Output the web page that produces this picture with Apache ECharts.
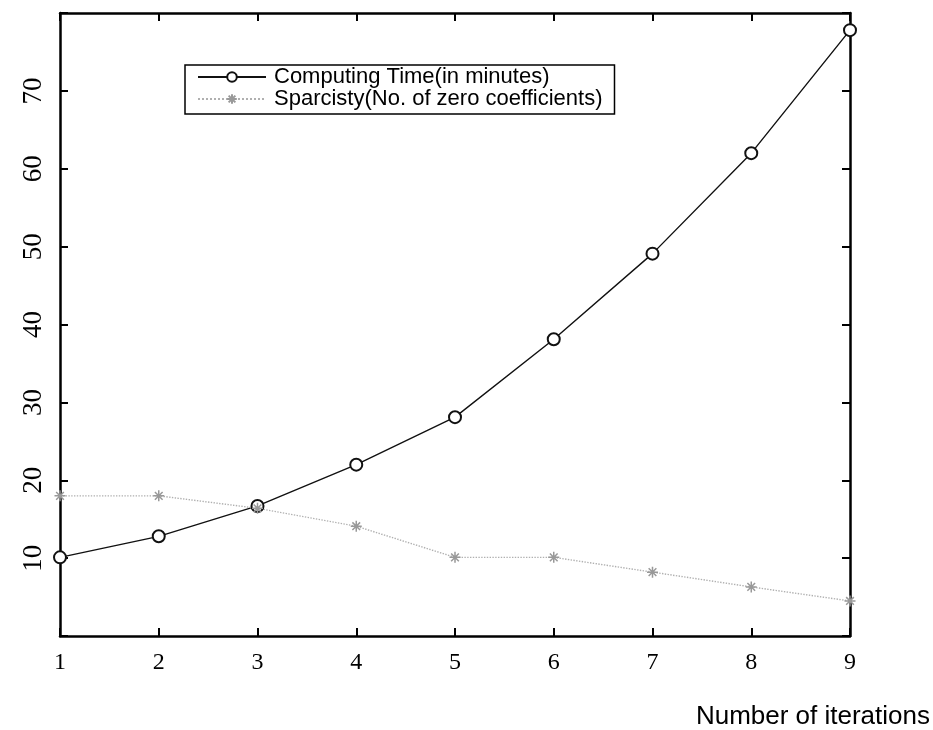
<!DOCTYPE html>
<html><head><meta charset="utf-8">
<script src="https://cdn.jsdelivr.net/npm/echarts@6/dist/echarts.min.js"></script>
<style>html,body{margin:0;padding:0;background:#fff}#c{width:933px;height:730px}</style>
</head><body><div id="c"></div>
<script>
const iterations = [1,2,3,4,5,6,7,8,9];
const computingTime = [10.1,12.8,16.7,22.0,28.1,38.1,49.1,62.0,77.8];
const sparsity = [18.0,18.0,16.4,14.1,10.1,10.1,8.2,6.3,4.5];
const yTicks = [10,20,30,40,50,60,70];
const seriesNames = ['Computing Time(in minutes)','Sparcisty(No. of zero coefficients)'];
const xName = 'Number of iterations';

const chart = echarts.init(document.getElementById('c'));
const serif = '"Liberation Serif","DejaVu Serif",serif';
const sans = '"Liberation Sans",Arial,sans-serif';
const asterisk = 'path://M0,5L10,5M5,0L5,10M1.5,1.5L8.5,8.5M8.5,1.5L1.5,8.5';
const axisBase = {
  axisLine:{show:true,onZero:false,lineStyle:{color:'#000',width:2.5}},
  axisTick:{show:true,inside:true,length:8,lineStyle:{color:'#000',width:2}},
  splitLine:{show:false}
};
chart.setOption({
  animation:false,
  backgroundColor:'#fff',
  grid:{left:60,right:82,top:13,bottom:94,containLabel:false},
  legend:{
    orient:'vertical', left:185, top:65,
    borderColor:'#000', borderWidth:1.5, padding:[1,12,4,12],
    itemWidth:68, itemHeight:12, itemGap:0,
    textStyle:{fontFamily:sans,fontSize:22,lineHeight:21,color:'#000',padding:[0,0,0,3]},
    data:seriesNames
  },
  xAxis:[
    Object.assign({type:'value',min:1,max:9,interval:1,position:'bottom',
      name:xName,nameLocation:'end',nameGap:80,
      nameTextStyle:{fontFamily:sans,fontSize:26,color:'#000',align:'right',verticalAlign:'top',padding:[68,0,0,0]},
      axisLabel:{fontFamily:serif,fontSize:24,color:'#000',margin:15,
        formatter:v=>iterations.includes(v)?String(v):''}},axisBase),
    Object.assign({type:'value',min:1,max:9,interval:1,position:'top',axisLabel:{show:false}},axisBase)
  ],
  yAxis:[
    Object.assign({type:'value',min:0,max:80,interval:10,position:'left',
      axisLabel:{fontFamily:serif,fontSize:27,color:'#000',rotate:90,margin:13,
        formatter:v=>yTicks.includes(v)?String(v):''}},axisBase),
    Object.assign({type:'value',min:0,max:80,interval:10,position:'right',axisLabel:{show:false}},axisBase)
  ],
  series:[
    {name:seriesNames[0],type:'line',
      data:iterations.map((x,i)=>[x,computingTime[i]]),
      symbol:'emptyCircle',symbolSize:12,showSymbol:true,
      lineStyle:{color:'#111',width:1.4},
      itemStyle:{color:'#111',borderWidth:1}},
    {name:seriesNames[1],type:'line',
      data:iterations.map((x,i)=>[x,sparsity[i]]),
      symbol:asterisk,symbolSize:11,
      lineStyle:{color:'#b0b0b0',width:1.4,type:'dotted'},
      itemStyle:{color:'#999',borderColor:'#999',borderWidth:1.5}}
  ]
});
</script></body></html>
